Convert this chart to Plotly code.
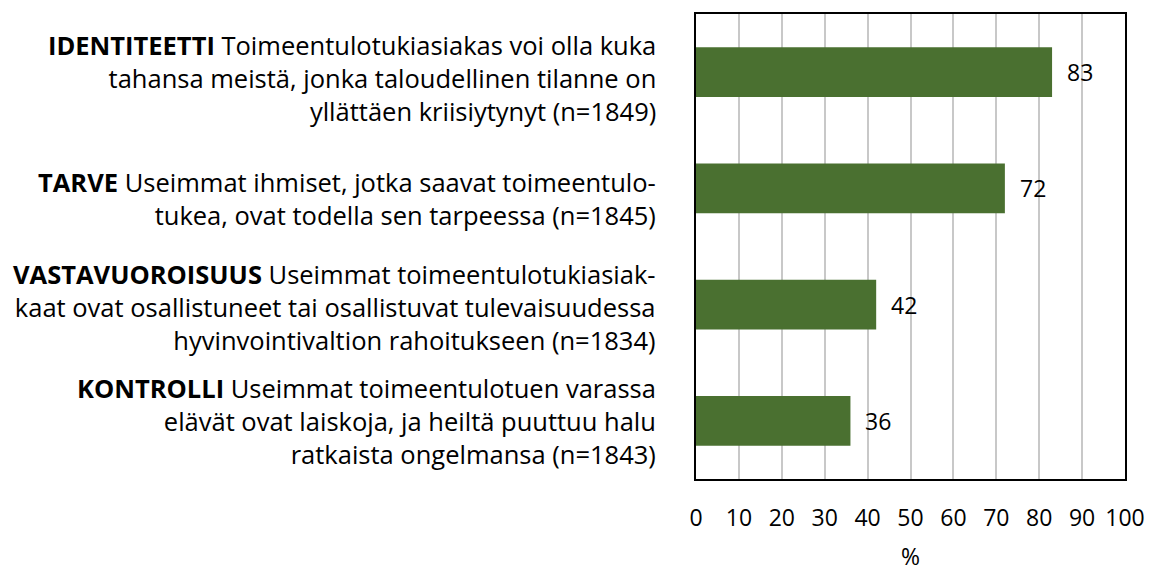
import plotly.graph_objects as go

prefixes = ["IDENTITEETTI", "TARVE", "VASTAVUOROISUUS", "KONTROLLI"]
label_lines = [
    ["Toimeentulotukiasiakas voi olla kuka",
     "tahansa meistä, jonka taloudellinen tilanne on",
     "yllättäen kriisiytynyt (n=1849)"],
    ["Useimmat ihmiset, jotka saavat toimeentulo-",
     "tukea, ovat todella sen tarpeessa (n=1845)"],
    ["Useimmat toimeentulotukiasiak-",
     "kaat ovat osallistuneet tai osallistuvat tulevaisuudessa",
     "hyvinvointivaltion rahoitukseen (n=1834)"],
    ["Useimmat toimeentulotuen varassa",
     "elävät ovat laiskoja, ja heiltä puuttuu halu",
     "ratkaista ongelmansa (n=1843)"],
]
values = [83, 72, 42, 36]
x_ticks = [0, 10, 20, 30, 40, 50, 60, 70, 80, 90, 100]
x_title = "%"

FONT = "Open Sans"
LABEL_SIZE = 25.5
NUM_SIZE = 23
BLOCK_SHIFT = [6, 10, 2, 0]

fig = go.Figure()
fig.add_trace(go.Bar(
    x=values, y=prefixes, orientation="h",
    marker=dict(color="#4a7030", line=dict(width=0)),
    width=0.43,
    hoverinfo="skip",
))

# data labels
for v, cat in zip(values, prefixes):
    fig.add_annotation(x=v, y=cat, text=str(v), showarrow=False,
                       xanchor="left", xshift=13,
                       font=dict(family=FONT, size=NUM_SIZE, color="#000000"))

# category labels (bold keyword + wrapped statement), right-aligned
for cat, lines, sh in zip(prefixes, label_lines, BLOCK_SHIFT):
    txt = "<b>" + cat + "</b> " + "<br>".join(lines)
    fig.add_annotation(xref="paper", x=0, yref="y", y=cat, text=txt,
                       showarrow=False, xanchor="right", yanchor="middle",
                       align="right", borderpad=0,
                       xshift=-39, yshift=-sh,
                       font=dict(family=FONT, size=LABEL_SIZE, color="#000000"))

fig.add_shape(type="line", xref="x", yref="paper", x0=10, x1=10, y0=0, y1=1,
              line=dict(color="#5a5a5a", width=1.5), layer="below")

fig.update_layout(
    width=1151, height=572,
    margin=dict(l=696, r=26, t=14, b=93),
    paper_bgcolor="white", plot_bgcolor="white",
    showlegend=False,
    font=dict(family=FONT, size=NUM_SIZE, color="#000000"),
)
fig.update_xaxes(
    range=[0, 100], tickvals=x_ticks, automargin=False,
    showgrid=True, gridcolor="#c8c8c8", gridwidth=1.5,
    showline=True, linecolor="#000000", linewidth=2, mirror=True,
    ticks="", ticklabelstandoff=17,
    tickfont=dict(family=FONT, size=NUM_SIZE, color="#000000"),
    title=dict(text=x_title, font=dict(family=FONT, size=NUM_SIZE, color="#000000"), standoff=21),
    zeroline=False,
)
fig.update_yaxes(
    autorange="reversed", automargin=False,
    showgrid=False, showticklabels=False,
    showline=True, linecolor="#000000", linewidth=2, mirror=True,
    ticks="",
)

fig.write_html("out.html", config={"displayModeBar": False},
               post_script="document.body.style.margin='0';document.body.style.overflow='hidden';")
